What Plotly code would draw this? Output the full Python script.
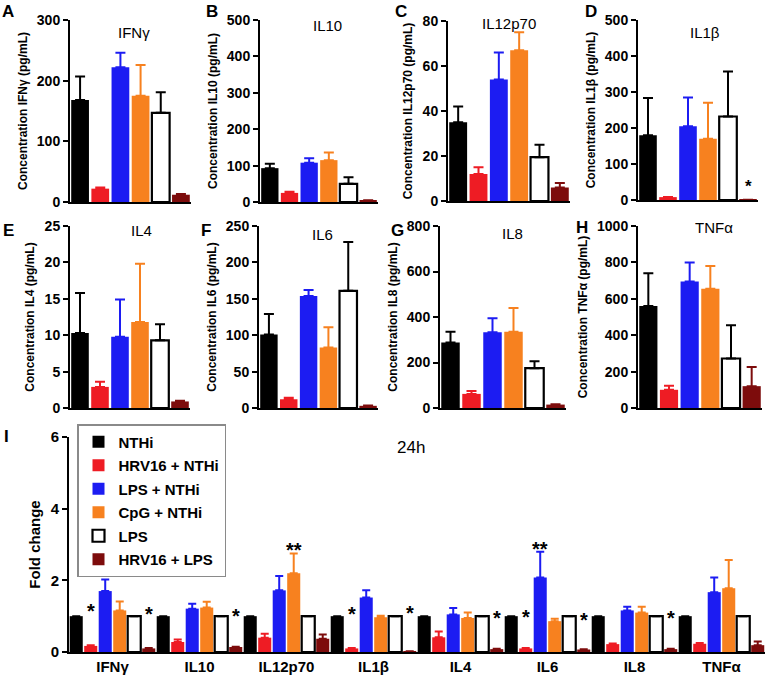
import plotly.graph_objects as go

# ---------------- data ----------------
conditions = ["NTHi", "HRV16 + NTHi", "LPS + NTHi", "CpG + NTHi", "LPS", "HRV16 + LPS"]
bar_fill = ["#000000", "#ee1c24", "#1c1cf2", "#f7811f", "#ffffff", "#7d0c0c"]
bar_edge = ["#000000", "#ee1c24", "#1c1cf2", "#f7811f", "#000000", "#7d0c0c"]

cytokines = ["IFNγ", "IL10", "IL12p70", "IL1β", "IL4", "IL6", "IL8", "TNFα"]
panel_letters = ["A", "B", "C", "D", "E", "F", "G", "H"]
y_max = [300, 500, 80, 500, 25, 250, 800, 1000]
y_dtick = [100, 100, 20, 100, 5, 50, 200, 200]

# concentrations (pg/mL): mean and upper error, one value per condition
ifng_mean = [168, 22, 222, 175, 147, 12]
ifng_err = [39, 2, 24, 51, 34, 1]
il10_mean = [93, 25, 108, 115, 50, 4]
il10_err = [12, 3, 12, 21, 18, 1]
il12p70_mean = [35, 12, 54, 67, 19.5, 6]
il12p70_err = [7, 3, 12, 8, 5.5, 2]
il1b_mean = [180, 8, 205, 170, 232, 1]
il1b_err = [103, 0, 80, 100, 125, 0]
il4_mean = [10.3, 2.9, 9.8, 11.8, 9.3, 0.9]
il4_err = [5.5, 0.7, 5.1, 8.0, 2.2, 0.1]
il6_mean = [101, 12, 154, 83, 161, 3]
il6_err = [28, 2, 8, 28, 67, 0.5]
il8_mean = [288, 62, 333, 335, 175, 15]
il8_err = [47, 13, 62, 105, 30, 1]
tnfa_mean = [560, 100, 695, 655, 272, 120]
tnfa_err = [180, 22, 105, 125, 183, 105]

# fold change at 24h: one list per condition across cytokines
fold_nthi = [1, 1, 1, 1, 1, 1, 1, 1]
fold_nthi_err = [0, 0, 0, 0, 0, 0, 0, 0]
fold_hrv16_nthi = [0.17, 0.28, 0.40, 0.10, 0.41, 0.10, 0.22, 0.23]
fold_hrv16_nthi_err = [0.02, 0.07, 0.11, 0.01, 0.16, 0.01, 0.02, 0.02]
fold_lps_nthi = [1.70, 1.21, 1.72, 1.52, 1.05, 2.08, 1.16, 1.67]
fold_lps_nthi_err = [0.32, 0.14, 0.40, 0.20, 0.18, 0.72, 0.10, 0.41]
fold_cpg_nthi = [1.16, 1.24, 2.20, 0.97, 0.95, 0.86, 1.10, 1.78]
fold_cpg_nthi_err = [0.25, 0.16, 0.55, 0.04, 0.15, 0.07, 0.16, 0.79]
fold_lps = [1, 1, 1, 1, 1, 1, 1, 1]
fold_lps_err = [0, 0, 0, 0, 0, 0, 0, 0]
fold_hrv16_lps = [0.10, 0.14, 0.37, 0.02, 0.08, 0.07, 0.08, 0.19]
fold_hrv16_lps_err = [0.01, 0.01, 0.12, 0.0, 0.01, 0.01, 0.01, 0.10]

# significance marks on the fold-change panel
star_cat = [0, 0, 1, 2, 3, 3, 4, 5, 5, 5, 6]
star_cond = [1, 5, 5, 3, 1, 5, 5, 1, 2, 5, 5]
star_text = ["*", "*", "*", "**", "*", "*", "*", "*", "**", "*", "*"]
star_y = [1.26, 1.16, 1.12, 2.95, 1.18, 1.19, 1.07, 1.10, 3.00, 1.00, 1.07]

# significance mark on the IL1β concentration panel
d_star_cond = 5
d_star_y = 49

# ---------------- figure ----------------
conc_mean = [ifng_mean, il10_mean, il12p70_mean, il1b_mean, il4_mean, il6_mean, il8_mean, tnfa_mean]
conc_err = [ifng_err, il10_err, il12p70_err, il1b_err, il4_err, il6_err, il8_err, tnfa_err]
fold_vals = [fold_nthi, fold_hrv16_nthi, fold_lps_nthi, fold_cpg_nthi, fold_lps, fold_hrv16_lps]
fold_errs = [fold_nthi_err, fold_hrv16_nthi_err, fold_lps_nthi_err, fold_cpg_nthi_err, fold_lps_err, fold_hrv16_lps_err]

W, H = 767, 676
FONT = "Liberation Sans, Arial, Helvetica, sans-serif"

# panel boxes in window pixels: x0, x1, ytop, ybottom
boxes = [
    (70, 191, 20, 202), (260, 378, 20, 202), (448, 570, 21, 201), (638, 758, 20, 200),
    (70, 190, 226, 408), (259, 378, 226, 408), (440, 566, 226, 408), (638, 762, 226, 408),
]
box_i = (69, 765, 437, 652)


def px(x):
    return x / W


def py(y):
    return 1 - y / H


def xd(a, b):
    return [px(a), px(b)]


def yd(top, bottom):
    return [py(bottom), py(top)]


fig = go.Figure()
layout = {}
annotations = []

for p in range(8):
    n = p + 1
    xn = "x" if n == 1 else f"x{n}"
    yn = "y" if n == 1 else f"y{n}"
    for j in range(6):
        fig.add_trace(go.Bar(
            x=[j], y=[conc_mean[p][j]], width=0.88,
            marker=dict(color=bar_fill[j],
                        line=dict(color=bar_edge[j], width=2.2 if j == 4 else 0)),
            error_y=dict(type="data", symmetric=False, array=[conc_err[p][j]], arrayminus=[0],
                         color=bar_edge[j], thickness=2, width=5),
            xaxis=xn, yaxis=yn, showlegend=False, hoverinfo="skip",
        ))
    x0, x1, yt, yb = boxes[p]
    layout[f"xaxis{'' if n == 1 else n}"] = dict(
        domain=xd(x0, x1), anchor=yn, range=[-0.5, 5.5], showline=True, linecolor="black",
        linewidth=2, showticklabels=False, ticks="", showgrid=False, zeroline=False,
        automargin=False)
    layout[f"yaxis{'' if n == 1 else n}"] = dict(
        domain=yd(yt, yb), anchor=xn, range=[0, y_max[p]], dtick=y_dtick[p], tick0=0,
        ticks="outside", ticklen=5, tickwidth=2, tickcolor="black", showline=True,
        linecolor="black", linewidth=2, showgrid=False, zeroline=False, automargin=False,
        tickfont=dict(family=FONT, size=14, color="black", weight="bold"),
        title=dict(text=f"Concentration {cytokines[p]} (pg/mL)", standoff=7,
                   font=dict(family=FONT, size=12, color="black", weight="bold")))

# fold-change panel
for j in range(6):
    fig.add_trace(go.Bar(
        x=list(range(8)), y=fold_vals[j], width=0.15, offset=-0.5 + j / 6 + 0.008,
        marker=dict(color=bar_fill[j], line=dict(color=bar_edge[j], width=2.2 if j == 4 else 0)),
        error_y=dict(type="data", symmetric=False, array=fold_errs[j], arrayminus=[0] * 8,
                     color=bar_edge[j], thickness=2, width=4),
        xaxis="x9", yaxis="y9", name=conditions[j], legendgroup=f"g{j}", showlegend=True,
        hoverinfo="skip",
    ))

x0, x1, yt, yb = box_i
layout["xaxis9"] = dict(
    domain=xd(x0, x1), anchor="y9", range=[-0.5, 7.5], showline=True, linecolor="black",
    linewidth=2, ticks="", tickvals=list(range(8)), ticktext=cytokines, showgrid=False,
    zeroline=False, automargin=False,
    tickfont=dict(family=FONT, size=15, color="black", weight="bold"))
layout["yaxis9"] = dict(
    domain=yd(yt, yb), anchor="x9", range=[0, 6], dtick=2, ticks="outside", ticklen=5,
    tickwidth=2, tickcolor="black", showline=True, linecolor="black", linewidth=2,
    showgrid=False, zeroline=False, automargin=False,
    tickfont=dict(family=FONT, size=15, color="black", weight="bold"),
    title=dict(text="Fold change", standoff=6,
               font=dict(family=FONT, size=15, color="black", weight="bold")))

# significance stars
for c, j, t, yv in zip(star_cat, star_cond, star_text, star_y):
    annotations.append(dict(
        x=c - 0.5 + (j + 0.5) / 6, y=yv, xref="x9", yref="y9", text=t, showarrow=False,
        yanchor="middle", yshift=-4, font=dict(family=FONT, size=20, color="black", weight="bold")))
annotations.append(dict(
    x=d_star_cond, y=d_star_y, xref="x4", yref="y4", text="*", showarrow=False,
    yanchor="middle", yshift=-4, font=dict(family=FONT, size=17, color="black", weight="bold")))

# panel titles
title_pos = [(134, 32), (327, 25), (509, 24), (705, 32), (141, 230), (322, 234), (512, 233), (714, 228)]
for p in range(8):
    tx, ty = title_pos[p]
    annotations.append(dict(
        x=px(tx), y=py(ty), xref="paper", yref="paper", text=cytokines[p], showarrow=False,
        xanchor="center", yanchor="middle", font=dict(family=FONT, size=15, color="black")))
annotations.append(dict(
    x=px(411), y=py(447), xref="paper", yref="paper", text="24h", showarrow=False,
    xanchor="center", yanchor="middle", font=dict(family=FONT, size=17, color="black")))

# panel letters
letter_pos = [(8, 12), (212, 12), (401, 12), (591, 12), (8, 230), (206, 230), (397, 230), (582, 228)]
for p in range(8):
    lx, ly = letter_pos[p]
    annotations.append(dict(
        x=px(lx), y=py(ly), xref="paper", yref="paper", text=panel_letters[p],
        showarrow=False, xanchor="center", yanchor="middle",
        font=dict(family=FONT, size=17, color="black", weight="bold")))
annotations.append(dict(
    x=px(6), y=py(436), xref="paper", yref="paper", text="I", showarrow=False,
    xanchor="center", yanchor="middle", font=dict(family=FONT, size=17, color="black", weight="bold")))

fig.update_layout(
    width=W, height=H, margin=dict(l=0, r=0, t=0, b=0, pad=0, autoexpand=False),
    paper_bgcolor="white", plot_bgcolor="white", barmode="overlay",
    font=dict(family=FONT, color="black"),
    showlegend=True,
    legend=dict(x=px(77), y=py(424), xanchor="left", yanchor="top",
                bgcolor="white", bordercolor="#8a8a8a", borderwidth=1.5,
                font=dict(family=FONT, size=15, color="black", weight="bold"),
                traceorder="grouped", tracegroupgap=1, itemwidth=30),
    annotations=annotations,
    **layout,
)

# remove the default page margin so the figure sits at the window corner
fig.write_html("out.html", config={"displayModeBar": False},
               post_script="document.body.style.margin='0px';")
